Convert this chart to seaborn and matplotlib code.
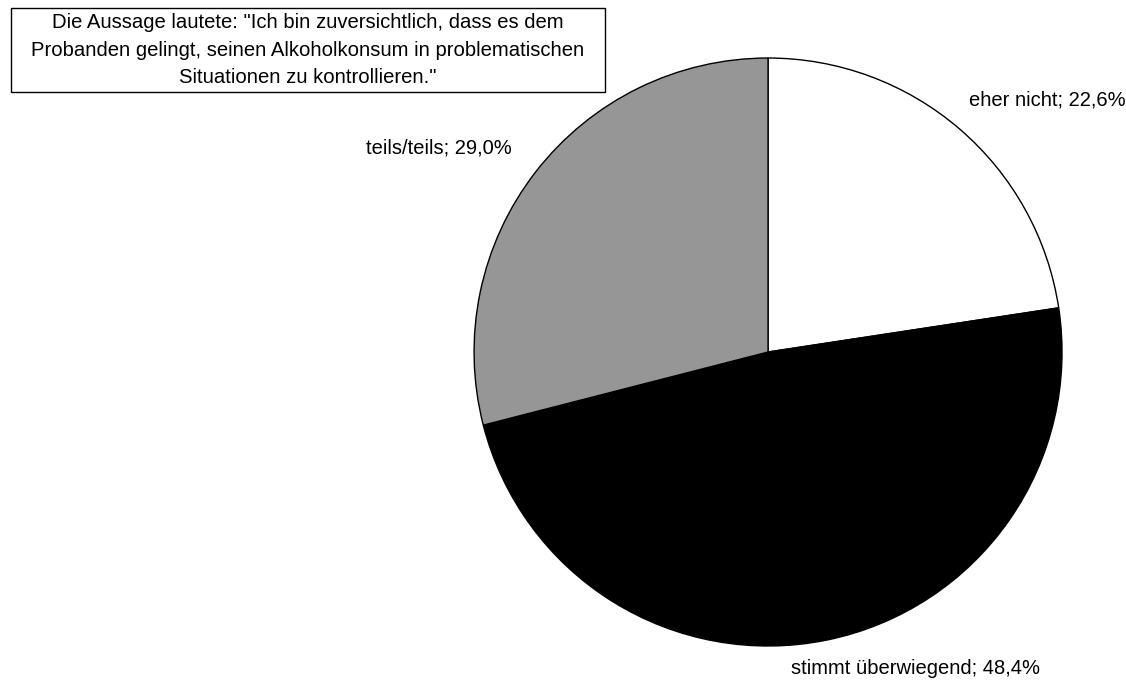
import matplotlib
matplotlib.use("Agg")
import matplotlib.pyplot as plt
import seaborn as sns
from matplotlib.patches import Rectangle

# --- Data ---
categories = ["eher nicht", "stimmt überwiegend", "teils/teils"]
shares = [22.6, 48.4, 29.0]
slice_colors = ["#ffffff", "#000000", "#969696"]
note = ('Die Aussage lautete: "Ich bin zuversichtlich, dass es dem\n'
        'Probanden gelingt, seinen Alkoholkonsum in problematischen\n'
        'Situationen zu kontrollieren."')

sns.set_theme(style="white")
plt.rcParams['font.family'] = ['Liberation Sans', 'DejaVu Sans']

fig = plt.figure(figsize=(11.26, 6.81), dpi=100)
fig.patch.set_facecolor("white")

# square axes holding the pie (center ~ (768, 352) px, radius ~294 px)
ax = fig.add_axes([0.421, 0.0514, 0.5222, 0.8634])
wedges, _ = ax.pie(shares, colors=slice_colors, startangle=90, counterclock=False,
                   wedgeprops=dict(edgecolor="black", linewidth=1.0))
ax.set_xlim(-1, 1)
ax.set_ylim(-1, 1)
ax.set_aspect("equal")
ax.axis("off")

# labels "name; value%" with German decimal comma
label_pos = [(0.95, 0.857), (0.503, -1.075), (-1.12, 0.695)]
for cat, val, (lx, ly) in zip(categories, shares, label_pos):
    txt = f"{cat}; {val:.1f}%".replace(".", ",")
    ax.text(lx, ly, txt, ha="center", va="center", fontsize=14.5, color="black",
            clip_on=False)

# framed note at top left
W, H = 1126, 681
fig.add_artist(Rectangle((11 / W, 1 - 92 / H), 594 / W, 84 / H, transform=fig.transFigure,
                         facecolor="white", edgecolor="black", linewidth=1.0))
fig.text(308 / W, 1 - 50 / H, note, ha="center", va="center", fontsize=14.6,
         linespacing=1.55, color="black")

fig.savefig("out.png", dpi=100, facecolor="white")
